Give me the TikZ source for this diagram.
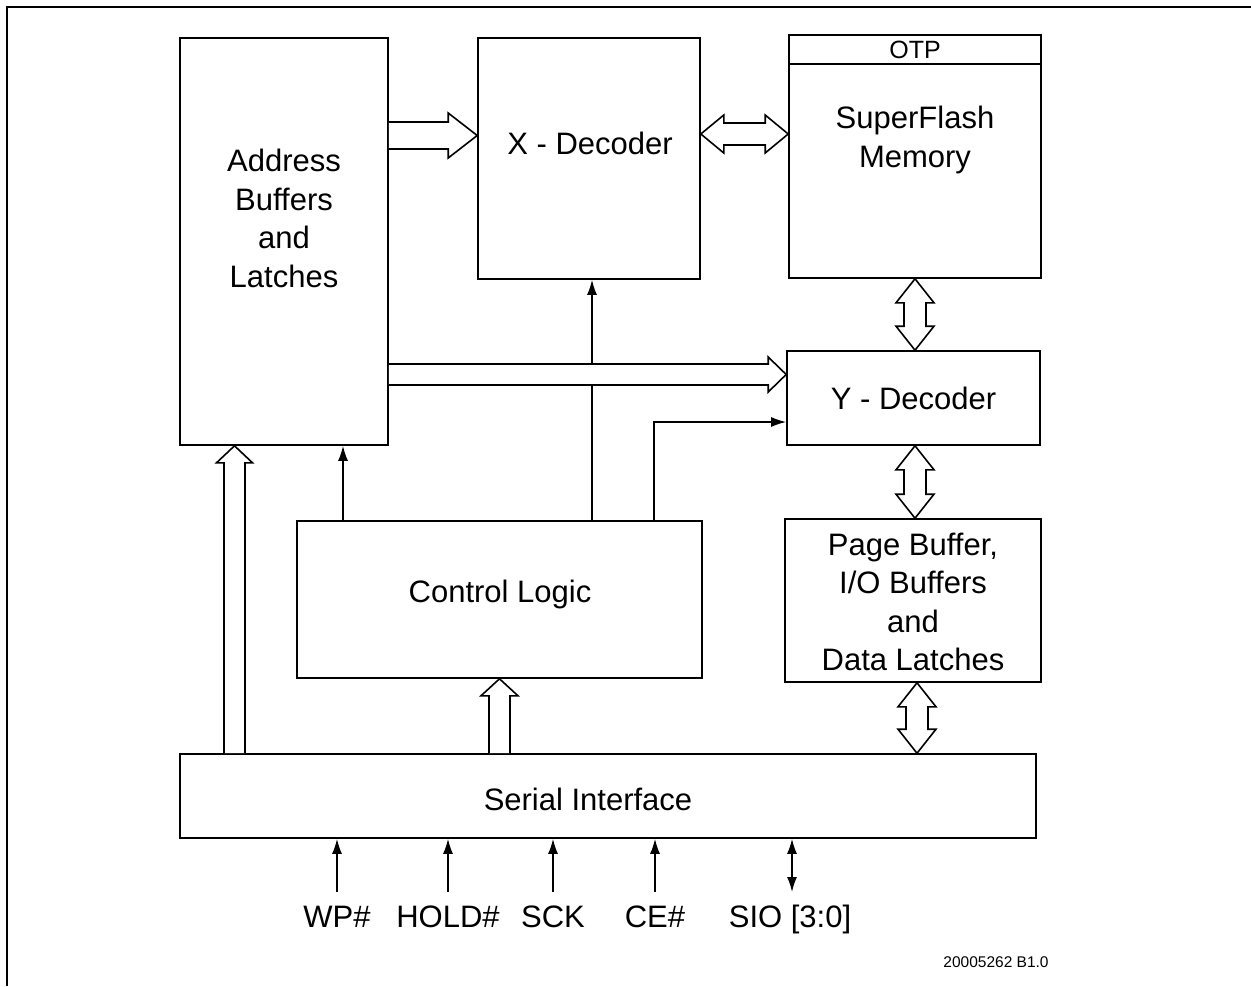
\documentclass[tikz,border=0pt]{standalone}
\usepackage{fontspec}
\setmainfont{Liberation Sans}
\usetikzlibrary{arrows.meta,calc}
\newcommand\hollowR[5]{\draw[hollow] let \p1=(#1),\p2=(#2) in (\x1,\y1+#3) -- (\x2-#5,\y1+#3) -- (\x2-#5,\y1+#4) -- (\x2,\y1) -- (\x2-#5,\y1-#4) -- (\x2-#5,\y1-#3) -- (\x1,\y1-#3);}
\newcommand\hollowU[5]{\draw[hollow] let \p1=(#1),\p2=(#2) in (\x1-#3,\y1) -- (\x1-#3,\y2-#5) -- (\x1-#4,\y2-#5) -- (\x1,\y2) -- (\x1+#4,\y2-#5) -- (\x1+#3,\y2-#5) -- (\x1+#3,\y1);}
\newcommand\hollowLR[5]{\draw[hollow] let \p1=(#1),\p2=(#2) in (\x1,\y1) -- (\x1+#5,\y1+#4) -- (\x1+#5,\y1+#3) -- (\x2-#5,\y1+#3) -- (\x2-#5,\y1+#4) -- (\x2,\y1) -- (\x2-#5,\y1-#4) -- (\x2-#5,\y1-#3) -- (\x1+#5,\y1-#3) -- (\x1+#5,\y1-#4) -- cycle;}
\newcommand\hollowUD[5]{\draw[hollow] let \p1=(#1),\p2=(#2) in (\x1,\y1) -- (\x1+#4,\y1-#5) -- (\x1+#3,\y1-#5) -- (\x1+#3,\y2+#5) -- (\x1+#4,\y2+#5) -- (\x1,\y2) -- (\x1-#4,\y2+#5) -- (\x1-#3,\y2+#5) -- (\x1-#3,\y1-#5) -- (\x1-#4,\y1-#5) -- cycle;}
\begin{document}
\begin{tikzpicture}[x=1pt,y=-1pt,
  box/.style={draw,line width=1.6pt,inner sep=0pt},
  txt/.style={font=\fontsize{31}{38.5}\selectfont,align=center,inner sep=0pt},
  hollow/.style={draw,fill=white,line width=1.6pt,line join=miter},
  sig/.style={line width=1.6pt,-{Latex[length=15pt,width=10pt]}},
  sigd/.style={line width=1.6pt,{Latex[length=15pt,width=10pt]}-{Latex[length=15pt,width=10pt]}}]
\useasboundingbox (0,0) rectangle (1251,986);
% frame
\draw[line width=2.5pt] (7,986) -- (7,7) -- (1251,7);
% boxes
\node[box,minimum width=208pt,minimum height=407pt] (addr) at (284,241.5) {};
\node[txt] (addrtxt) at (284,218.5) {Address\\Buffers\\and\\Latches};
\node[box,minimum width=222pt,minimum height=241pt] (xdec) at (589,158.5) {};
\node[txt] (xdectxt) at (590,143) {X - Decoder};
\node[box,minimum width=252pt,minimum height=243pt] (flash) at (915,156.5) {};
\coordinate (otpy) at (0,64);
\draw[line width=1.6pt] (flash.west |- otpy) -- (flash.east |- otpy);
\node[font=\fontsize{25}{30}\selectfont,inner sep=0pt] (otp) at (915,50) {OTP};
\node[txt] (flashtxt) at (915,140) {SuperFlash\\Memory};
\node[box,minimum width=253pt,minimum height=94pt] (ydec) at (913.5,398) {};
\node[txt] (ydectxt) at (913.5,398) {Y - Decoder};
\node[box,minimum width=256pt,minimum height=163pt] (page) at (913,600.5) {};
\node[txt] (pagetxt) at (913,602) {Page Buffer,\\I/O Buffers\\and\\Data Latches};
\node[box,minimum width=405pt,minimum height=157pt] (ctrl) at (499.5,599.5) {};
\node[txt] (ctrltxt) at (500,594) {Control Logic};
\node[box,minimum width=856pt,minimum height=84pt] (serial) at (608,796) {};
\node[txt] (serialtxt) at (588,799) {Serial Interface};
% thin arrows from control logic
\coordinate (cx1) at (592,0);
\coordinate (cx2) at (654,0);
\coordinate (cx3) at (343,0);
\coordinate (cy2) at (0,422);
\draw[sig] (ctrl.north -| cx1) -- (xdec.south -| cx1);
\draw[sig] (ctrl.north -| cx2) -- (cx2 |- cy2) -- (ydec.west |- cy2);
\draw[sig] (ctrl.north -| cx3) -- (addr.south -| cx3);
% hollow arrows
\coordinate (h1) at (0,135.5);
\coordinate (h2) at (0,134);
\coordinate (h3) at (0,374.5);
\coordinate (v1) at (234.5,0);
\coordinate (v2) at (499.5,0);
\coordinate (v3) at (915,0);
\coordinate (v4) at (917,0);
\hollowR{addr.east |- h1}{xdec.west |- h1}{13.5}{22.5}{29}
\hollowLR{xdec.east |- h2}{flash.west |- h2}{11}{19}{23}
\hollowR{addr.east |- h3}{ydec.west |- h3}{10.5}{17.5}{18}
\hollowU{serial.north -| v1}{addr.south -| v1}{10.5}{18}{17}
\hollowU{serial.north -| v2}{ctrl.south -| v2}{10.5}{18.5}{17}
\hollowUD{flash.south -| v3}{ydec.north -| v3}{11}{19}{24}
\hollowUD{ydec.south -| v3}{page.north -| v3}{11}{19}{24}
\hollowUD{page.south -| v4}{serial.north -| v4}{11}{19}{24}
% signals
\coordinate (sigbot) at (0,892);
\node[txt,anchor=base] (wp) at (337,927) {WP\#};
\node[txt,anchor=base] (hold) at (448,927) {HOLD\#};
\node[txt,anchor=base] (sck) at (553,927) {SCK};
\node[txt,anchor=base] (ce) at (655,927) {CE\#};
\node[txt,anchor=base] (sio) at (790,927) {SIO [3:0]};
\coordinate (sx5) at (792,0);
\draw[sig] (wp |- sigbot) -- (wp |- serial.south);
\draw[sig] (hold |- sigbot) -- (hold |- serial.south);
\draw[sig] (sck |- sigbot) -- (sck |- serial.south);
\draw[sig] (ce |- sigbot) -- (ce |- serial.south);
\draw[sigd] (sx5 |- sigbot) -- (sx5 |- serial.south);
\node[font=\fontsize{15.5}{18}\selectfont,inner sep=0pt] (code) at (996,962) {20005262 B1.0};
\end{tikzpicture}
\end{document}
